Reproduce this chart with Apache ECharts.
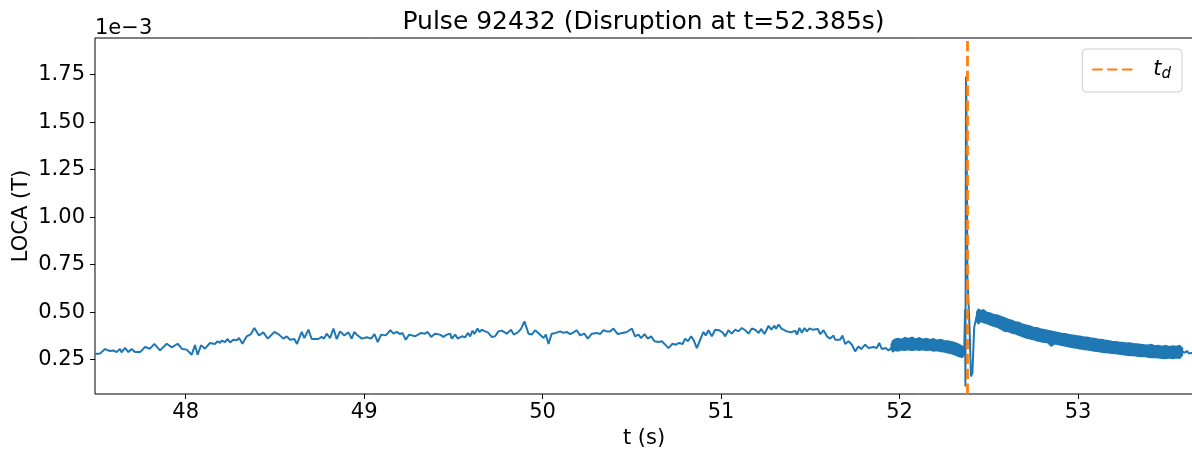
<!DOCTYPE html>
<html>
<head>
<meta charset="utf-8">
<script src="https://cdn.jsdelivr.net/npm/echarts@6/dist/echarts.min.js"></script>
<style>
  html, body { margin: 0; padding: 0; background: #ffffff; }
  #chart { width: 1192px; height: 450px; }
</style>
</head>
<body>
<div id="chart"></div>
<script>
// LOCA signal, pulse 92432. Values in units of 1e-3 T, time in seconds.

// Low-rate part of the signal before the fast acquisition window
const preT = [
  47.492, 47.520, 47.548, 47.576, 47.595, 47.613, 47.632, 47.641, 47.660, 47.679,
  47.697, 47.716, 47.744, 47.772, 47.800, 47.825, 47.856, 47.894, 47.922, 47.955,
  47.981, 48.006, 48.034, 48.052, 48.067, 48.086, 48.108, 48.136, 48.164, 48.179,
  48.192, 48.202, 48.221, 48.235, 48.249, 48.267, 48.286, 48.299, 48.318, 48.342,
  48.366, 48.385, 48.411, 48.435, 48.460, 48.497, 48.523, 48.547, 48.566, 48.585,
  48.609, 48.624, 48.650, 48.665, 48.688, 48.706,
  48.744, 48.762, 48.775, 48.790, 48.809, 48.828, 48.846, 48.865, 48.889, 48.912,
  48.930, 48.945, 48.964, 48.987, 49.015, 49.039, 49.058, 49.076, 49.095, 49.121,
  49.147, 49.164, 49.183, 49.201, 49.214, 49.233, 49.252, 49.285, 49.319, 49.341,
  49.356, 49.375, 49.397, 49.425, 49.444, 49.463, 49.482, 49.491, 49.510, 49.525,
  49.547, 49.566, 49.581, 49.594, 49.607, 49.618, 49.635, 49.646, 49.659, 49.678,
  49.693, 49.715, 49.734, 49.752, 49.771, 49.799, 49.823, 49.838, 49.861, 49.879,
  49.898, 49.921, 49.939, 49.958,
  49.980, 50.005, 50.018, 50.033, 50.051, 50.074, 50.098, 50.117, 50.135, 50.154,
  50.173, 50.191, 50.210, 50.234, 50.253, 50.276, 50.304, 50.322, 50.341, 50.360,
  50.378, 50.397, 50.421, 50.447, 50.472, 50.500, 50.518, 50.537, 50.552, 50.571,
  50.589, 50.608, 50.627, 50.649, 50.668, 50.683, 50.705, 50.728, 50.746, 50.765,
  50.784, 50.799, 50.814, 50.832, 50.847, 50.864, 50.883, 50.901, 50.914, 50.929,
  50.948, 50.967, 50.989, 51.008, 51.023, 51.041, 51.060, 51.079, 51.097, 51.116,
  51.135, 51.154, 51.172, 51.191,
  51.210, 51.225, 51.243, 51.266, 51.281, 51.299, 51.307, 51.322, 51.340, 51.368,
  51.393, 51.415, 51.425, 51.439, 51.453, 51.467, 51.481, 51.494, 51.512, 51.542,
  51.555, 51.574, 51.593, 51.611, 51.630, 51.639, 51.667, 51.680, 51.695, 51.714,
  51.733, 51.751, 51.770, 51.785, 51.807, 51.826, 51.854, 51.873, 51.886, 51.901,
  51.923, 51.938, 51.953
];
const preV = [
  0.280, 0.282, 0.306, 0.296, 0.299, 0.290, 0.306, 0.289, 0.312, 0.290,
  0.306, 0.290, 0.290, 0.317, 0.308, 0.333, 0.299, 0.334, 0.315, 0.334,
  0.306, 0.303, 0.276, 0.327, 0.276, 0.326, 0.308, 0.338, 0.333, 0.347,
  0.338, 0.350, 0.343, 0.359, 0.341, 0.355, 0.352, 0.364, 0.334, 0.373,
  0.385, 0.417, 0.377, 0.394, 0.361, 0.396, 0.382, 0.361, 0.373, 0.355,
  0.359, 0.333, 0.396, 0.364, 0.408, 0.359,
  0.359, 0.370, 0.361, 0.387, 0.364, 0.414, 0.359, 0.399, 0.377, 0.394,
  0.361, 0.396, 0.377, 0.361, 0.368, 0.361, 0.385, 0.343, 0.382, 0.378,
  0.405, 0.387, 0.396, 0.385, 0.391, 0.355, 0.382, 0.373, 0.391, 0.387,
  0.396, 0.370, 0.387, 0.382, 0.370, 0.382, 0.387, 0.361, 0.382, 0.361,
  0.373, 0.368, 0.391, 0.373, 0.403, 0.385, 0.414, 0.396, 0.408, 0.399,
  0.394, 0.370, 0.373, 0.399, 0.403, 0.387, 0.408, 0.382, 0.394, 0.412,
  0.452, 0.387, 0.382, 0.405,
  0.387, 0.364, 0.382, 0.333, 0.387, 0.391, 0.399, 0.391, 0.396, 0.385,
  0.394, 0.405, 0.378, 0.387, 0.361, 0.387, 0.391, 0.385, 0.405, 0.399,
  0.399, 0.414, 0.385, 0.391, 0.396, 0.414, 0.373, 0.382, 0.364, 0.385,
  0.361, 0.373, 0.347, 0.343, 0.347, 0.333, 0.311, 0.334, 0.329, 0.338,
  0.333, 0.361, 0.347, 0.373, 0.352, 0.311, 0.355, 0.396, 0.377, 0.405,
  0.373, 0.408, 0.405, 0.394, 0.373, 0.405, 0.387, 0.408, 0.399, 0.417,
  0.405, 0.387, 0.414, 0.408,
  0.391, 0.412, 0.385, 0.429, 0.408, 0.429, 0.412, 0.435, 0.412, 0.399,
  0.394, 0.403, 0.382, 0.417, 0.391, 0.417, 0.399, 0.414, 0.408, 0.412,
  0.385, 0.405, 0.373, 0.361, 0.377, 0.355, 0.355, 0.377, 0.333, 0.347,
  0.329, 0.294, 0.320, 0.306, 0.329, 0.312, 0.317, 0.312, 0.338, 0.306,
  0.312, 0.299, 0.312
];

// Fast-sampled window before the disruption: lower / upper envelope of the noise band
const bandPreT  = [51.953, 51.962, 51.975, 51.990, 52.010, 52.030, 52.050, 52.070, 52.090, 52.110,
                   52.130, 52.150, 52.170, 52.190, 52.210, 52.230, 52.250, 52.270, 52.290, 52.310,
                   52.330, 52.350, 52.362];
const bandPreLo = [0.305, 0.292, 0.300, 0.296, 0.302, 0.300, 0.304, 0.298, 0.303, 0.300,
                   0.304, 0.298, 0.302, 0.296, 0.298, 0.293, 0.292, 0.286, 0.282, 0.276,
                   0.268, 0.262, 0.272];
const bandPreHi = [0.330, 0.350, 0.358, 0.362, 0.356, 0.366, 0.360, 0.368, 0.358, 0.365,
                   0.357, 0.362, 0.355, 0.360, 0.352, 0.356, 0.350, 0.349, 0.344, 0.340,
                   0.332, 0.322, 0.312];

// Disruption transient
const spikeT = [52.362, 52.366, 52.367, 52.369, 52.372, 52.374, 52.380, 52.392, 52.400, 52.408, 52.418, 52.432];
const spikeV = [0.292, 0.300, 0.514, 0.109, 1.740, 1.650, 0.690, 0.420, 0.162, 0.180, 0.420, 0.480];

// Fast-sampled window after the disruption: lower / upper envelope of the noise band
const bandPostT  = [52.432, 52.442, 52.455, 52.470, 52.490, 52.510, 52.530, 52.550, 52.570, 52.590,
                    52.610, 52.630, 52.650, 52.670, 52.690, 52.710, 52.730, 52.750, 52.770, 52.790,
                    52.810, 52.830, 52.850, 52.870, 52.890, 52.910, 52.930, 52.950, 52.970, 52.990,
                    53.010, 53.030, 53.050, 53.070, 53.090, 53.110, 53.130, 53.150, 53.170, 53.190,
                    53.210, 53.230, 53.250, 53.270, 53.290, 53.310, 53.330, 53.350, 53.370, 53.390,
                    53.410, 53.430, 53.450, 53.470, 53.490, 53.510, 53.530, 53.550, 53.570, 53.585];
const bandPostLo = [0.450, 0.440, 0.452, 0.445, 0.440, 0.432, 0.426, 0.420, 0.410, 0.400,
                    0.398, 0.390, 0.386, 0.378, 0.372, 0.364, 0.360, 0.356, 0.350, 0.346,
                    0.342, 0.340, 0.322, 0.334, 0.330, 0.326, 0.322, 0.318, 0.314, 0.312,
                    0.308, 0.305, 0.302, 0.300, 0.296, 0.294, 0.291, 0.288, 0.286, 0.284,
                    0.282, 0.280, 0.277, 0.275, 0.272, 0.272, 0.270, 0.267, 0.268, 0.264,
                    0.262, 0.262, 0.260, 0.258, 0.256, 0.260, 0.256, 0.260, 0.258, 0.275];
const bandPostHi = [0.500, 0.515, 0.508, 0.512, 0.498, 0.495, 0.486, 0.484, 0.476, 0.470,
                    0.462, 0.456, 0.448, 0.446, 0.436, 0.432, 0.428, 0.420, 0.418, 0.412,
                    0.408, 0.404, 0.400, 0.396, 0.392, 0.388, 0.386, 0.382, 0.379, 0.376,
                    0.374, 0.370, 0.368, 0.364, 0.362, 0.358, 0.356, 0.352, 0.350, 0.346,
                    0.345, 0.342, 0.340, 0.337, 0.338, 0.334, 0.332, 0.330, 0.328, 0.326,
                    0.330, 0.322, 0.325, 0.320, 0.324, 0.318, 0.322, 0.320, 0.324, 0.310];

// Low-rate tail after the fast window
const tailT = [53.585, 53.598, 53.610, 53.622, 53.634, 53.646];
const tailV = [0.292, 0.287, 0.296, 0.282, 0.286, 0.280];

// Disruption time
const tDisruption = 52.385;

// Axis ranges and tick labels
const xRange = [47.492, 53.644];
const yRange = [0.0695, 1.943];
const xTicks = [48, 49, 50, 51, 52, 53];
const yTicks = [0.25, 0.50, 0.75, 1.00, 1.25, 1.50, 1.75];

const BLUE = '#1f77b4';
const ORANGE = '#ff7f0e';
const FONT = 'DejaVu Sans';

const zip = (a, b) => a.map((v, i) => [v, b[i]]);

function lineSeries(name, t, v) {
  return {
    name, type: 'line', data: zip(t, v),
    showSymbol: false, symbol: 'none', sampling: false,
    lineStyle: { color: BLUE, width: 2 },
    itemStyle: { color: BLUE },
    z: 2, silent: true
  };
}

// Noise band drawn as one filled polygon between the lower and upper envelopes
function bandSeries(name, t, lo, hi) {
  return {
    name, type: 'custom', silent: true, z: 2,
    data: t.map((x, i) => [x, lo[i], hi[i]]),
    encode: { x: 0, y: [1, 2] },
    renderItem: (params, api) => {
      if (params.dataIndex !== 0) return null;
      const pts = [];
      for (let i = 0; i < t.length; i++) pts.push(api.coord([t[i], hi[i]]));
      for (let i = t.length - 1; i >= 0; i--) pts.push(api.coord([t[i], lo[i]]));
      return {
        type: 'polygon',
        shape: { points: pts },
        style: { fill: BLUE, stroke: BLUE, lineWidth: 1.5, lineJoin: 'miter' }
      };
    }
  };
}

const chart = echarts.init(document.getElementById('chart'), null, { renderer: 'canvas' });

chart.setOption({
  animation: false,
  backgroundColor: '#ffffff',
  textStyle: { fontFamily: FONT, color: '#000' },
  title: {
    text: 'Pulse 92432 (Disruption at t=52.385s)',
    left: 643.5, textAlign: 'center', top: 10, padding: 0,
    textStyle: { fontFamily: FONT, fontSize: 25, fontWeight: 'normal', color: '#000' }
  },
  grid: {
    left: 95, right: -1, top: 38, bottom: 56,
    show: true, borderColor: '#000', borderWidth: 1, backgroundColor: 'transparent',
    containLabel: false, outerBoundsMode: 'none'
  },
  legend: {
    data: ['t_d'],
    right: 10, top: 49,
    padding: [10, 11, 10, 9],
    itemWidth: 44, itemHeight: 14,
    backgroundColor: 'rgba(255,255,255,0.8)',
    borderColor: '#cccccc', borderWidth: 1, borderRadius: 4,
    selectedMode: false,
    itemStyle: { color: 'rgba(0,0,0,0)', borderColor: 'rgba(0,0,0,0)', borderWidth: 0 },
    formatter: () => '{t|t}{d|d}',
    textStyle: {
      rich: {
        t: { fontFamily: FONT, fontStyle: 'italic', fontSize: 21, color: '#000', padding: [0, 0, 0, 12] },
        d: { fontFamily: FONT, fontStyle: 'italic', fontSize: 15, color: '#000', padding: [10, 0, 0, 0] }
      }
    }
  },
  xAxis: {
    type: 'value', min: xRange[0], max: xRange[1],
    name: 't (s)', nameLocation: 'middle', nameGap: 34, nameMoveOverlap: false,
    nameTextStyle: { fontFamily: FONT, fontSize: 21, color: '#000' },
    axisLine: { show: false },
    axisTick: { show: true, inside: false, length: 5, lineStyle: { color: '#000', width: 1 }, customValues: xTicks },
    axisLabel: {
      show: true, margin: 8, fontFamily: FONT, fontSize: 21, color: '#000',
      customValues: xTicks, formatter: v => String(v)
    },
    splitLine: { show: false }
  },
  yAxis: {
    type: 'value', min: yRange[0], max: yRange[1],
    name: 'LOCA (T)', nameLocation: 'middle', nameGap: 63, nameMoveOverlap: false,
    nameTextStyle: { fontFamily: FONT, fontSize: 21, color: '#000' },
    axisLine: { show: false },
    axisTick: { show: true, inside: false, length: 5, lineStyle: { color: '#000', width: 1 }, customValues: yTicks },
    axisLabel: {
      show: true, margin: 10, fontFamily: FONT, fontSize: 21, color: '#000',
      customValues: yTicks, formatter: v => v.toFixed(2)
    },
    splitLine: { show: false }
  },
  graphic: [
    {
      type: 'text', left: 95, top: 18, silent: true,
      style: { text: '1e\u22123', font: '21px "DejaVu Sans"', fill: '#000' }
    }
  ],
  series: [
    lineSeries('pre', preT, preV),
    bandSeries('bandPre', bandPreT, bandPreLo, bandPreHi),
    lineSeries('spike', spikeT, spikeV),
    bandSeries('bandPost', bandPostT, bandPostLo, bandPostHi),
    lineSeries('tail', tailT, tailV),
    {
      name: 't_d', type: 'line', data: [],
      symbol: 'none', showSymbol: false,
      lineStyle: { color: ORANGE, width: 2.8, type: [10.4, 4.5] },
      itemStyle: { color: ORANGE },
      z: 5,
      markLine: {
        silent: true, symbol: ['none', 'none'], animation: false,
        label: { show: false },
        lineStyle: { color: ORANGE, width: 2.8, type: [10.4, 4.5] },
        emphasis: { disabled: true },
        data: [{ xAxis: tDisruption }]
      }
    }
  ]
});
</script>
</body>
</html>
